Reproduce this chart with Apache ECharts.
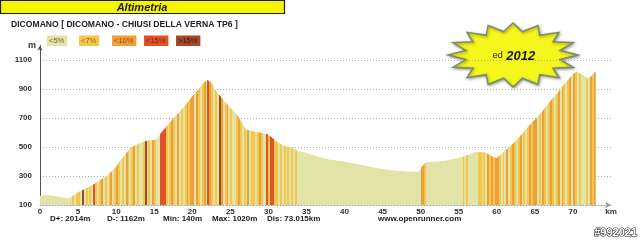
<!DOCTYPE html>
<html><head><meta charset="utf-8">
<script src="https://cdn.jsdelivr.net/npm/echarts@6/dist/echarts.min.js"></script>
<style>html,body{margin:0;padding:0;background:#fff}#c{width:640px;height:242px}</style>
</head><body><div id="c"></div>
<script>
// ---- data ----
const distKm = [0,1,2,3,3.8,4.5,5,6,7,8,9,10,11,12,13,14,15,15.5,16,17,18,19,20,21,21.5,22,22.5,23,24,25,26,26.5,27,28,29,30,30.5,31,32,33,34,35,36,37,38,39,40,42,44,46,48,49.8,50.2,50.6,51,53,55,56,57,58,58.5,59,59.5,60,61,62,63,64,65,66,67,68,69,70,70.5,71,72,72.5,73];
const elevM  = [160,165,158,150,142,165,185,210,238,272,307,360,433,495,520,540,545,560,600,663,720,778,845,905,940,958,940,893,824,767,709,665,617,605,594,583,560,537,507,491,468,456,438,422,410,403,395,376,353,337,328,326,364,387,392,399,422,438,461,461,458,445,428,420,468,514,567,629,686,743,812,870,939,997,1018,1003,967,990,1019];
// slope class for each 0.25 km slice (0:<5% 1:<7% 2:<10% 3:<15% 4:>15%)
const gradeStepKm = 0.25;
const gradeClasses =
  "00000000000000000101" + // 0-5
  "10401010310120101201" + // 5-10
  "21010210120100140102" + // 10-15
  "10033310121020101212" + // 15-20
  "20210120321010420120" + // 20-25
  "10012101020110121003" + // 25-30
  "13311010101010100000" + // 30-35
  "00000000000000000000" + // 35-40
  "00000000000000000000" + // 40-45
  "00000000000000000000" + // 45-50
  "22100000000000000000" + // 50-55
  "00101000001101021212" + // 55-60
  "21010201210120101212" + // 60-65
  "20102101210120210120" + // 65-70
  "210100010212";          // 70-73
const gradeLabels = ['<5%','<7%','<10%','<15%','>15%'];
const gradeColors = ['#e1e4a6','#f3c64e','#eda03a','#de5428','#a4482c'];
const gradeTextColors = ['#6e6a2a','#b0600c','#b83a0c','#8a160c','#3e160c'];
const yTickValues = [100,300,500,700,900,1100];
const xTickStep = 5;
const statTexts = ['D+: 2014m','D-: 1162m','Min: 140m','Max: 1020m','Dis: 73.015km','www.openrunner.com'];
const titleText = 'Altimetria';
const subtitleText = 'DICOMANO [ DICOMANO - CHIUSI DELLA VERNA TP6 ]';
const badgeYear = '2012';
const watermark = '#992021';

// ---- build ----
const FONT = '"Liberation Sans", Arial, sans-serif';
const seriesData = distKm.map((d, i) => [d, elevM[i]]);

const pieces = [];
for (let i = 0; i < gradeClasses.length; i++) {
  const c = +gradeClasses[i];
  const s = i * gradeStepKm, e = (i + 1) * gradeStepKm;
  const last = pieces[pieces.length - 1];
  if (last && last.cls === c) last.lt = e;
  else pieces.push({ gte: s, lt: e, cls: c, color: gradeColors[c] });
}
pieces[pieces.length - 1].lt = 80;
pieces.forEach(p => delete p.cls);

const graphics = [];
// title bar
graphics.push({ type: 'rect', shape: { x: 0.5, y: 0.5, width: 284, height: 13 },
  style: { fill: '#f6f400', stroke: '#1a1a1a', lineWidth: 1.2 } });
graphics.push({ type: 'text', x: 142, y: 7.5,
  style: { text: titleText, align: 'center', verticalAlign: 'middle',
    font: 'italic bold 11px ' + FONT, fill: '#1a1a2a' } });
graphics.push({ type: 'text', x: 11, y: 24.5,
  style: { text: subtitleText, verticalAlign: 'middle',
    font: 'bold 8.6px ' + FONT, fill: '#222' } });
// grade legend
const legX = [47, 79, 112, 144, 176];
gradeLabels.forEach((t, i) => {
  graphics.push({ type: 'text', x: legX[i], y: 35.5,
    style: { text: t, font: '7.5px ' + FONT, fill: gradeTextColors[i],
      backgroundColor: gradeColors[i], padding: [1.5, 3, 1, 2], verticalAlign: 'top' } });
});
// star badge
const starPts = [];
const nSp = 16, cx = 513, cy = 55;
for (let i = 0; i < nSp * 2; i++) {
  const a = -Math.PI / 2 + i * Math.PI / nSp;
  const r = i % 2 === 0 ? 1 : 0.74;
  starPts.push([cx + 65 * r * Math.cos(a), cy + 32 * r * Math.sin(a)]);
}
graphics.push({ type: 'polygon', shape: { points: starPts },
  style: { fill: '#f4f61c', stroke: '#7d8c66', lineWidth: 1.5,
    shadowBlur: 3, shadowColor: 'rgba(0,0,0,0.35)', shadowOffsetX: 1, shadowOffsetY: 1 } });
graphics.push({ type: 'text', x: cx + 1, y: cy + 1,
  style: { text: '{a|ed} {b|' + badgeYear + '}', align: 'center', verticalAlign: 'middle',
    rich: { a: { font: '9px ' + FONT, fill: '#1a1a2a' },
            b: { font: 'italic bold 13px ' + FONT, fill: '#1a1a2a' } } } });
// stats line
const statX = [50, 107, 163, 212, 267, 378];
statTexts.forEach((t, i) => {
  graphics.push({ type: 'text', x: statX[i], y: 219,
    style: { text: t, verticalAlign: 'middle', font: 'bold 8px ' + FONT, fill: '#222' } });
});
graphics.push({ type: 'text', x: 637, y: 233,
  style: { text: watermark, align: 'right', verticalAlign: 'middle',
    font: 'bold 11px ' + FONT, fill: '#fff', stroke: '#111', lineWidth: 1 } });

const chart = echarts.init(document.getElementById('c'), null, { renderer: 'canvas' });
chart.setOption({
  animation: false,
  backgroundColor: '#fff',
  grid: { left: 40, right: 29, top: 45.5, bottom: 37 },
  xAxis: {
    type: 'value', min: 0, max: 75, interval: xTickStep,
    axisLine: { show: true, lineStyle: { color: '#999', type: [1, 2], width: 1 },
      symbol: ['none', 'arrow'], symbolSize: [5, 6] },
    axisTick: { show: false },
    splitLine: { show: false },
    axisLabel: { margin: 3, fontSize: 8, fontWeight: 'bold', fontFamily: FONT, color: '#333',
      formatter: v => v >= 75 ? 'km' : String(v) }
  },
  yAxis: {
    type: 'value', min: 100, max: 1200, interval: 200,
    name: 'm', nameLocation: 'end', nameGap: 0,
    nameTextStyle: { fontSize: 9, fontWeight: 'bold', fontFamily: FONT, color: '#333',
      align: 'right', verticalAlign: 'middle', padding: [0, 4, 0, 0] },
    axisLine: { show: true, lineStyle: { color: '#555', width: 1 },
      symbol: ['none', 'arrow'], symbolSize: [4, 5] },
    axisTick: { show: false },
    axisLabel: { margin: 8, fontSize: 8, fontWeight: 'bold', fontFamily: FONT, color: '#333',
      formatter: v => yTickValues.indexOf(v) >= 0 ? String(v) : '' },
    splitLine: { show: true, showMinLine: false, showMaxLine: false,
      lineStyle: { color: '#aaa', type: [1, 2], width: 1 } }
  },
  visualMap: { type: 'piecewise', show: false, dimension: 0, seriesIndex: 0, pieces: pieces },
  series: [{
    type: 'line', data: seriesData, showSymbol: false, smooth: false,
    lineStyle: { width: 1 },
    areaStyle: { opacity: 1 }
  }],
  graphic: graphics
});
</script></body></html>
